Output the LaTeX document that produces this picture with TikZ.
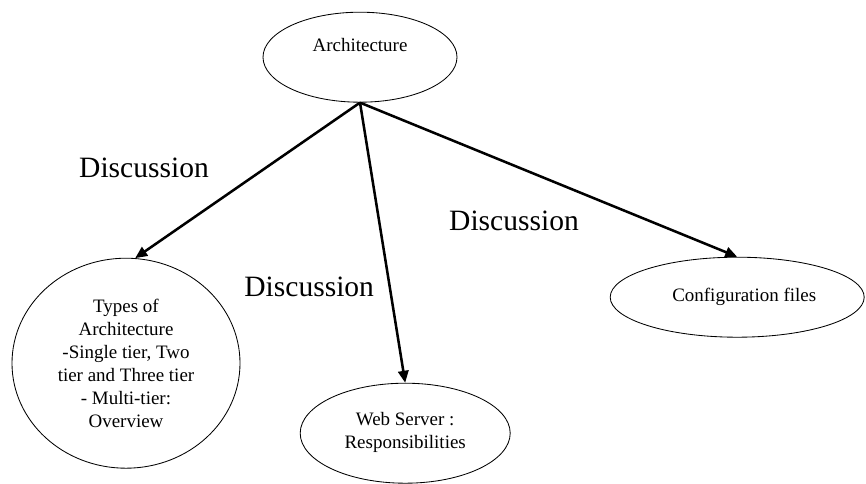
\documentclass[tikz,border=0pt]{standalone}
\usepackage{fontspec}
\setmainfont{Liberation Serif}
\usetikzlibrary{arrows.meta,positioning,shapes.geometric}

\tikzset{
  topic/.style={draw, ellipse, line width=0.6pt, inner sep=0pt, align=center,
    font=\fontsize{13.5}{16.4}\selectfont},
  talk/.style={font=\fontsize{21}{25}\selectfont},
  link/.style={->, line width=1.8pt}
}

\begin{document}
\begin{tikzpicture}[>={Triangle[length=3mm,width=2.6mm]}]
    \useasboundingbox (0,0) rectangle (21.65,-12.1);
    % les quatre sujets
    \node[topic, minimum width=4.85cm, minimum height=2.25cm] (arch) at (9.0,-1.43)
      {\raisebox{18pt}{Architecture}};
    \node[topic, minimum width=5.7cm, minimum height=5.25cm] (types) at (3.15,-9.08)
      {Types of\\Architecture\\-Single tier, Two\\tier and Three tier\\- Multi-tier:\\Overview};
    \node[topic, minimum width=5.25cm, minimum height=2.5cm] (web) at (10.13,-10.83)
      {\raisebox{14pt}{\begin{tabular}{@{}c@{}}Web Server :\\Responsibilities\end{tabular}}};
    \node[topic, minimum width=6.35cm, minimum height=2cm] (conf) at (18.43,-7.43)
      {\hspace{10pt}Configuration files};
    % les étiquettes
    \node[talk] (disc1) at (3.6,-4.2) {Discussion};
    \node[talk] (disc2) at (7.73,-7.18) {Discussion};
    \node[talk] (disc3) at (12.85,-5.53) {Discussion};
    % les flèches
    \draw[link] (arch.south) -- (types.85);
    \draw[link] (arch.south) -- (web.north);
    \draw[link] (arch.south) -- (conf.north);
\end{tikzpicture}
\end{document}
